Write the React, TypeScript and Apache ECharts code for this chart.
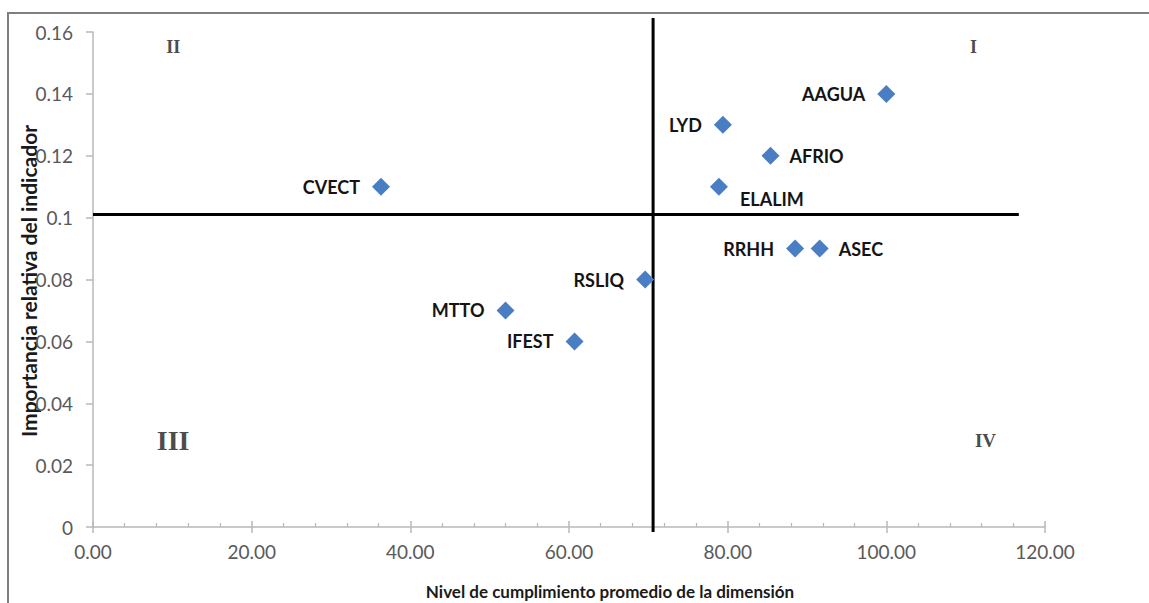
import React, { useEffect, useRef } from "react";
import * as echarts from "echarts";

// Indicators (dimension codes)
const indicatorNames = ["AAGUA", "LYD", "AFRIO", "ELALIM", "CVECT", "RRHH", "ASEC", "RSLIQ", "MTTO", "IFEST"];
// Nivel de cumplimiento promedio de la dimensión (x)
const cumplimiento = [100, 79.4, 85.4, 78.9, 36.3, 88.5, 91.6, 69.6, 52.0, 60.7];
// Importancia relativa del indicador (y)
const importancia = [0.14, 0.13, 0.12, 0.11, 0.11, 0.09, 0.09, 0.08, 0.07, 0.06];
// Where each label sits relative to its point
const labelSides = ["left", "left", "right", "belowRight", "left", "left", "right", "left", "left", "left"];

// Quadrant dividers
const meanCumplimiento = 70.6;
const meanImportancia = 0.101;
const verticalDividerExtent = [-0.0016, 0.1645];
const horizontalDividerExtent = [0, 116.7];

// Quadrant numerals
const quadrantNames = ["II", "I", "III", "IV"];
const quadrantX = [10.1, 111.0, 10.1, 112.5];
const quadrantY = [0.155, 0.155, 0.0281, 0.0281];
const quadrantFontSizes = [18, 18, 28, 19];

// Axes
const xMin = 0, xMax = 120, xInterval = 20;
const yMin = 0, yMax = 0.16, yInterval = 0.02;
const xTitle = "Nivel de cumplimiento promedio de la dimensión";
const yTitle = "Importancia relativa del indicador";

const POINT_COLOR = "#4a7ec4";
const AXIS_COLOR = "#b8b8b8";
const TICK_LABEL_COLOR = "#595959";
const FONT = "Lato, 'Open Sans', sans-serif";

export default function App() {
  const ref = useRef<HTMLDivElement>(null);

  useEffect(() => {
    if (!ref.current) return;
    const chart = echarts.init(ref.current, undefined, { renderer: "svg" });

    const pointData = indicatorNames.map((n, i) => {
      const side = labelSides[i];
      let label: any;
      if (side === "left") label = { position: "left", distance: 12 };
      else if (side === "right") label = { position: "right", distance: 10 };
      else label = { position: "right", distance: 12, offset: [0, 12] };
      return { name: n, value: [cumplimiento[i], importancia[i]], label };
    });

    const quadrantData = quadrantNames.map((q, i) => ({
      name: q,
      value: [quadrantX[i], quadrantY[i]],
      label: { fontSize: quadrantFontSizes[i] },
    }));

    chart.setOption({
      animation: false,
      backgroundColor: "#ffffff",
      grid: { left: 93, right: 104, top: 32, bottom: 76, containLabel: false },
      xAxis: [
        {
          type: "value",
          position: "bottom",
          min: xMin,
          max: xMax,
          interval: xInterval,
          splitLine: { show: false },
          axisLine: { show: true, lineStyle: { color: AXIS_COLOR, width: 1.5 } },
          axisTick: { show: true, length: 6, lineStyle: { color: AXIS_COLOR, width: 1.5 } },
          axisLabel: {
            margin: 15,
            color: TICK_LABEL_COLOR,
            fontFamily: FONT,
            fontSize: 19,
            formatter: (v: number) => v.toFixed(2),
          },
        },
        {
          type: "value",
          position: "bottom",
          min: xMin,
          max: xMax,
          interval: xInterval,
          splitLine: { show: false },
          axisLine: { show: false },
          axisTick: { show: true, inside: true, length: 6, lineStyle: { color: AXIS_COLOR, width: 1.5 } },
          minorTick: { show: true, splitNumber: 5, length: 4, lineStyle: { color: AXIS_COLOR, width: 1.2 } },
          axisLabel: { show: false },
        },
      ],
      yAxis: {
        type: "value",
        min: yMin,
        max: yMax,
        interval: yInterval,
        splitLine: { show: false },
        axisLine: { show: true, lineStyle: { color: AXIS_COLOR, width: 1.5 } },
        axisTick: { show: true, length: 7, lineStyle: { color: AXIS_COLOR, width: 1.5 } },
        axisLabel: {
          margin: 20,
          color: TICK_LABEL_COLOR,
          fontFamily: FONT,
          fontSize: 19,
          formatter: (v: number) => String(parseFloat(v.toFixed(2))),
        },
      },
      series: [
        {
          type: "line",
          xAxisIndex: 0,
          data: [
            [meanCumplimiento, verticalDividerExtent[0]],
            [meanCumplimiento, verticalDividerExtent[1]],
          ],
          clip: false,
          symbol: "none",
          silent: true,
          lineStyle: { color: "#000000", width: 3 },
          z: 1,
        },
        {
          type: "line",
          xAxisIndex: 0,
          data: [
            [horizontalDividerExtent[0], meanImportancia],
            [horizontalDividerExtent[1], meanImportancia],
          ],
          clip: false,
          symbol: "none",
          silent: true,
          lineStyle: { color: "#000000", width: 3 },
          z: 1,
        },
        {
          type: "scatter",
          xAxisIndex: 0,
          symbol: "diamond",
          symbolSize: 18,
          itemStyle: { color: POINT_COLOR, opacity: 1 },
          label: {
            show: true,
            formatter: "{b}",
            color: "#141414",
            fontFamily: FONT,
            fontWeight: "bold",
            fontSize: 18,
          },
          data: pointData,
          z: 3,
        },
        {
          type: "scatter",
          xAxisIndex: 0,
          symbolSize: 0,
          silent: true,
          label: {
            show: true,
            position: "inside",
            formatter: "{b}",
            color: "#1a1a1a",
            fontWeight: "bold",
            fontFamily: "'Liberation Serif', 'DejaVu Serif', serif",
          },
          data: quadrantData,
          z: 2,
        },
      ],
      graphic: [
        {
          type: "rect",
          shape: { x: 8, y: 13, width: 1300, height: 800 },
          style: { fill: "none", stroke: "#7f7f7f", lineWidth: 2 },
          silent: true,
          z: 0,
        },
        {
          type: "text",
          x: 610,
          y: 591,
          style: {
            text: xTitle,
            fontFamily: FONT,
            fontWeight: "bold",
            fontSize: 17,
            fill: "#1a1a1a",
            align: "center",
            verticalAlign: "middle",
          },
        },
        {
          type: "text",
          x: 28,
          y: 281,
          rotation: Math.PI / 2,
          style: {
            text: yTitle,
            fontFamily: FONT,
            fontWeight: "bold",
            fontSize: 21,
            fill: "#1a1a1a",
            align: "center",
            verticalAlign: "middle",
          },
        },
      ],
    });

    return () => chart.dispose();
  }, []);

  return (
    <div
      ref={ref}
      style={{ position: "fixed", left: 0, top: 0, width: 1149, height: 603 }}
    />
  );
}
